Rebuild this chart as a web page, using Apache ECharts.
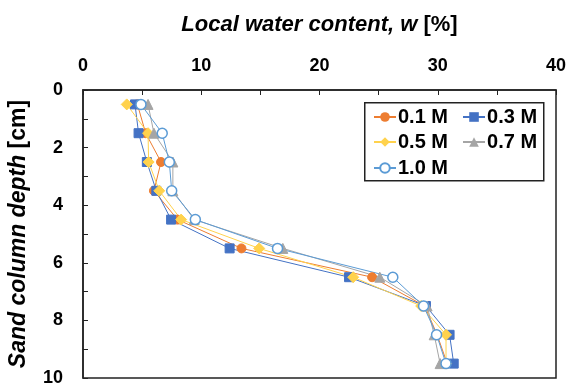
<!DOCTYPE html>
<html>
<head>
<meta charset="utf-8">
<script src="https://cdn.jsdelivr.net/npm/echarts@6/dist/echarts.min.js"></script>
<style>html,body{margin:0;padding:0;background:#fff}#c{width:568px;height:385px}</style>
</head>
<body>
<div id="c"></div>
<script>
var depths = [0.5, 1.5, 2.5, 3.5, 4.5, 5.5, 6.5, 7.5, 8.5, 9.5];
var w01 = [4.6, 5.3, 6.6, 6.0, 8.0, 13.4, 24.45, 28.9, 29.95, 30.8];
var w03 = [4.4, 4.7, 5.4, 6.2, 7.45, 12.4, 22.5, 29.0, 31.0, 31.35];
var w05 = [3.7, 5.5, 5.55, 6.45, 8.3, 14.9, 22.85, 28.6, 30.7, 30.7];
var w07 = [5.5, 6.0, 7.6, 7.6, 9.4, 16.9, 25.1, 29.1, 29.7, 30.2];
var w10 = [4.9, 6.7, 7.3, 7.5, 9.5, 16.45, 26.2, 28.8, 29.9, 30.7];
var seriesNames = ['0.1 M', '0.3 M', '0.5 M', '0.7 M', '1.0 M'];
var xTicks = [0, 10, 20, 30, 40];
var yTicks = [0, 2, 4, 6, 8, 10];

function pts(w) { return w.map(function (v, i) { return [v, depths[i]]; }); }

var colors = ['#ED7D31', '#4472C4', '#FFD24D', '#A5A5A5', '#5B9BD5'];
var symbols = ['circle', 'rect', 'diamond', 'triangle', 'circle'];
var sizes = [9, 9, 11, 10, 10];
var dataSets = [w01, w03, w05, w07, w10];

var font = '"Liberation Sans", Arial, sans-serif';
var series = dataSets.map(function (d, i) {
  var s = {
    name: seriesNames[i], type: 'line', data: pts(d),
    symbol: symbols[i], symbolSize: sizes[i],
    lineStyle: { color: colors[i], width: 1 },
    itemStyle: { color: colors[i], borderColor: colors[i] },
    emphasis: { disabled: true }, animation: false
  };
  if (i === 4) { s.itemStyle = { color: '#fff', borderColor: colors[i], borderWidth: 1.5 }; }
  return s;
});

var legendCommon = {
  itemWidth: 22, itemHeight: 12, itemGap: 14, orient: 'horizontal', padding: 0,
  textStyle: { fontFamily: font, fontWeight: 'bold', fontSize: 20, color: '#000', padding: [0, 0, 0, -3] },
  selectedMode: false
};

var chart = echarts.init(document.getElementById('c'), null, { renderer: 'canvas' });
chart.setOption({
  animation: false,
  color: colors,
  grid: { left: 83, right: 12, top: 90, bottom: 7, show: true, borderColor: '#222', borderWidth: 1.5,
          containLabel: false, outerBoundsMode: 'none' },
  xAxis: {
    type: 'value', position: 'top', min: xTicks[0], max: xTicks[xTicks.length - 1], interval: 10,
    name: '{i|Local water content, w }{n|[%]}', nameLocation: 'middle', nameGap: 54,
    nameTextStyle: { rich: {
      i: { fontFamily: font, fontWeight: 'bold', fontStyle: 'italic', fontSize: 22, color: '#000' },
      n: { fontFamily: font, fontWeight: 'bold', fontSize: 22, color: '#000' } } },
    axisLine: { show: true, lineStyle: { color: '#222', width: 1.5 } },
    axisTick: { show: true, inside: true, length: 5, lineStyle: { color: '#222' } },
    minorTick: { show: true, splitNumber: 2, length: 5, lineStyle: { color: '#222' } },
    axisLabel: { margin: 15, fontFamily: font, fontWeight: 'bold', fontSize: 18, color: '#000' },
    splitLine: { show: false }
  },
  yAxis: {
    type: 'value', inverse: true, min: yTicks[0], max: yTicks[yTicks.length - 1], interval: 2,
    name: '{i|Sand column depth }{n|[cm]}', nameLocation: 'middle', nameGap: 53,
    nameTextStyle: { rich: {
      i: { fontFamily: font, fontWeight: 'bold', fontStyle: 'italic', fontSize: 23, color: '#000' },
      n: { fontFamily: font, fontWeight: 'bold', fontSize: 23, color: '#000' } } },
    axisLine: { show: true, lineStyle: { color: '#222', width: 1.5 } },
    axisTick: { show: true, inside: true, length: 5, lineStyle: { color: '#222' } },
    minorTick: { show: true, splitNumber: 2, length: 5, lineStyle: { color: '#222' } },
    axisLabel: { margin: 20, fontFamily: font, fontWeight: 'bold', fontSize: 18, color: '#000' },
    splitLine: { show: false }
  },
  legend: [
    Object.assign({ data: [seriesNames[0], seriesNames[1]], left: 373, top: 107 }, legendCommon),
    Object.assign({ data: [seriesNames[2], seriesNames[3]], left: 373, top: 132 }, legendCommon),
    Object.assign({ data: [seriesNames[4]], left: 373, top: 158 }, legendCommon)
  ],
  graphic: [{
    type: 'rect', left: 364, top: 102, z: 0,
    shape: { width: 179, height: 78 },
    style: { fill: '#fff', stroke: '#222', lineWidth: 1.5 }
  }],
  series: series
});
</script>
</body>
</html>
